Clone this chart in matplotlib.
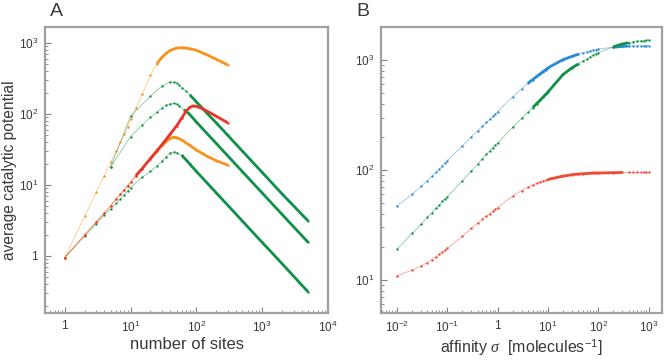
import numpy as np
import matplotlib
matplotlib.use("Agg")
import matplotlib.pyplot as plt
from matplotlib.ticker import LogLocator, FuncFormatter, NullFormatter

plt.rcParams['font.family'] = ['Liberation Sans', 'DejaVu Sans']
plt.rcParams['mathtext.fontset'] = 'custom'
plt.rcParams['mathtext.rm'] = 'Liberation Sans'
plt.rcParams['mathtext.it'] = 'Liberation Serif:italic'

# --- panel A: average catalytic potential vs number of sites ---
a_orange_hi_n = [1, 2, 3, 4, 5, 6, 7, 8, 9, 10, 12, 15, 20, 25, 30, 35, 40, 50, 60, 70, 80, 100, 150, 200, 300]
a_orange_hi_v = [0.95, 3.6, 7.9, 13.5, 21, 30, 40, 52, 66, 84, 120, 190, 350, 510, 630, 720, 785, 850, 860, 850, 830, 790, 670, 590, 490]

a_green_up_n = [5, 10, 20, 30, 40, 45, 50, 55, 60, 70, 80, 100, 150, 200, 300, 500, 1000, 2000, 5000]
a_green_up_v = [18, 94, 178, 248, 284, 283, 272, 252, 236, 208, 185, 148, 99, 75, 50, 30, 15, 7.5, 3.1]

a_green_mid_n = [5, 10, 15, 20, 25, 30, 35, 40, 45, 50, 55, 65, 78, 100, 200, 500, 1000, 2000, 5000]
a_green_mid_v = [18, 48, 70, 90, 105, 122, 133, 140, 141, 138, 130, 115, 100, 77, 38.5, 15.4, 7.7, 3.85, 1.55]

a_red_n = [1, 2, 3, 4, 5, 6, 7, 8, 9, 10, 12, 15, 20, 25, 30, 40, 50, 60, 70, 80, 90, 100, 120, 150, 200, 300]
a_red_v = [0.95, 1.98, 3.0, 4.05, 5.1, 6.3, 7.4, 8.6, 9.8, 11, 13.5, 17, 23.5, 30, 37, 52, 68, 88, 110, 125, 130, 128, 120, 108, 93, 75]

a_orange_lo_n = [1, 2, 3, 4, 5, 6, 7, 8, 9, 10, 12, 15, 20, 25, 30, 35, 40, 45, 50, 60, 70, 80, 100, 150, 200, 300]
a_orange_lo_v = [0.95, 1.98, 3.0, 4.05, 5.1, 6.3, 7.4, 8.6, 9.8, 11, 13.5, 17, 23.5, 30, 36, 41, 45.5, 47, 46.5, 43, 39, 36, 31, 25, 22, 19]

a_green_lo_n = [1, 2, 3, 4, 5, 6, 7, 8, 9, 10, 15, 20, 25, 30, 35, 40, 45, 50, 60, 70, 80, 100, 200, 500, 1000, 2000, 5000]
a_green_lo_v = [0.95, 1.9, 2.85, 3.8, 4.6, 5.5, 6.4, 7.3, 8.2, 9.2, 12.8, 15.6, 18.5, 21.5, 25, 28.3, 29.2, 28.6, 26, 22.5, 19.5, 15.5, 7.75, 3.1, 1.55, 0.78, 0.31]

# --- panel B: catalytic potential vs affinity sigma ---
b_sigma = [0.01, 0.02, 0.03, 0.04, 0.05, 0.06, 0.07, 0.08, 0.09,
           0.1, 0.2, 0.3, 0.4, 0.5, 0.6, 0.7, 0.8, 0.9,
           1, 2, 3, 4, 5, 6, 7, 8, 9,
           10, 20, 30, 40, 50, 60, 70, 80, 90,
           100, 200, 300, 400, 500, 600, 700, 800, 900, 1000]
b_blue = [47, 60, 71, 80, 88, 95, 102, 109, 116,
          122, 166, 200, 227, 250, 271, 290, 307, 323,
          340, 465, 550, 615, 665, 710, 750, 785, 815,
          850, 1010, 1080, 1130, 1170, 1195, 1215, 1230, 1245,
          1260, 1310, 1330, 1340, 1345, 1350, 1350, 1352, 1355, 1355]
b_green = [19, 26.5, 32, 37, 41, 45, 48.5, 52, 55,
           57, 80, 98, 113, 127, 139, 150, 160, 168,
           176, 245, 295, 335, 370, 402, 432, 460, 487,
           512, 740, 850, 920, 985, 1030, 1075, 1110, 1140,
           1170, 1320, 1400, 1440, 1465, 1480, 1495, 1505, 1515, 1520]
b_red = [10.9, 12.3, 13.4, 14.4, 15.3, 16.2, 17.1, 18, 18.7,
         19.4, 25, 29.5, 32.7, 35.6, 38, 40, 42, 44,
         45.5, 58, 65, 70, 73.5, 76, 78, 79.5, 81,
         82, 88, 90.5, 92, 92.5, 93, 93.5, 94, 94,
         94, 94.5, 95, 95, 95, 95, 95, 95, 95, 95]

ORANGE = '#f7931e'
RED = '#e8352a'
GREEN = '#0f9148'
BLUE = '#2a8ad4'
RED_B = '#f04a34'
SPINE = '#a0a0a0'
TEXT = '#3a3a3a'


def draw_series(ax, x, y, color, thick_ranges):
    x = np.asarray(x, float)
    y = np.asarray(y, float)
    ax.plot(x, y, color=color, lw=0.6, alpha=0.5, zorder=2)
    ax.plot(x, y, ls='none', marker='o', ms=1.7, mec='none', mfc=color, zorder=3)
    for lo, hi in thick_ranges:
        m = (x >= lo) & (x <= hi)
        ax.plot(x[m], y[m], color=color, lw=2.0, solid_capstyle='butt', zorder=4)


def log_fmt(v, pos):
    e = int(round(np.log10(v)))
    if e == 0:
        return '1'
    return r'$\mathregular{10^{%d}}$' % e


def style_axes(ax):
    for s in ax.spines.values():
        s.set_color(SPINE)
        s.set_linewidth(1.6)
    ax.tick_params(which='both', direction='in', color='#808080',
                   top=False, right=False, labelsize=8.5, labelcolor=TEXT)
    ax.tick_params(which='major', length=4, width=0.8, pad=5)
    ax.tick_params(which='minor', length=2.5, width=0.6)
    for axis in (ax.xaxis, ax.yaxis):
        axis.set_major_locator(LogLocator(base=10, numticks=20))
        axis.set_minor_locator(LogLocator(base=10, subs=np.arange(2, 10), numticks=20))
        axis.set_major_formatter(FuncFormatter(log_fmt))
        axis.set_minor_formatter(NullFormatter())


fig = plt.figure(figsize=(6.64, 3.6), dpi=100)
axA = fig.add_axes([45 / 664, 47 / 360, 283 / 664, 286 / 360])
axB = fig.add_axes([381 / 664, 47 / 360, 281 / 664, 286 / 360])

for ax in (axA, axB):
    ax.set_xscale('log')
    ax.set_yscale('log')

draw_series(axA, a_orange_hi_n, a_orange_hi_v, ORANGE, [(22, 300)])
draw_series(axA, a_green_up_n, a_green_up_v, GREEN, [(80, 5000)])
draw_series(axA, a_green_mid_n, a_green_mid_v, GREEN, [(65, 5000)])
draw_series(axA, a_green_lo_n, a_green_lo_v, GREEN, [(55, 5000)])
draw_series(axA, a_orange_lo_n, a_orange_lo_v, ORANGE, [(20, 300)])
draw_series(axA, a_red_n, a_red_v, RED, [(12, 300)])

axA.set_xlim(0.5, 1e4)
axA.set_ylim(0.157, 1680)
style_axes(axA)
axA.set_xlabel('number of sites', fontsize=12, color=TEXT)
axA.set_ylabel('average catalytic potential', fontsize=11.2, color=TEXT)
axA.xaxis.set_label_coords(0.5, -0.085)
axA.yaxis.set_label_coords(-0.1, 0.5)

draw_series(axB, b_sigma, b_blue, BLUE, [(4, 40), (150, 400)])
draw_series(axB, b_sigma, b_green, GREEN, [(5, 40), (150, 400)])
draw_series(axB, b_sigma, b_red, RED_B, [(10, 300)])

axB.set_xlim(0.00482, 1850)
axB.set_ylim(5.0, 2000)
style_axes(axB)
axB.set_xlabel(r'affinity $\sigma$  [molecules$^{\mathregular{-1}}$]', fontsize=11.5, color=TEXT)
axB.xaxis.set_label_coords(0.5, -0.085)

fig.text(50 / 664, 1 - 12 / 360, 'A', fontsize=14, color=TEXT, va='center')
fig.text(356 / 664, 1 - 12 / 360, 'B', fontsize=14, color=TEXT, va='center')

fig.savefig('out.png', dpi=100)
